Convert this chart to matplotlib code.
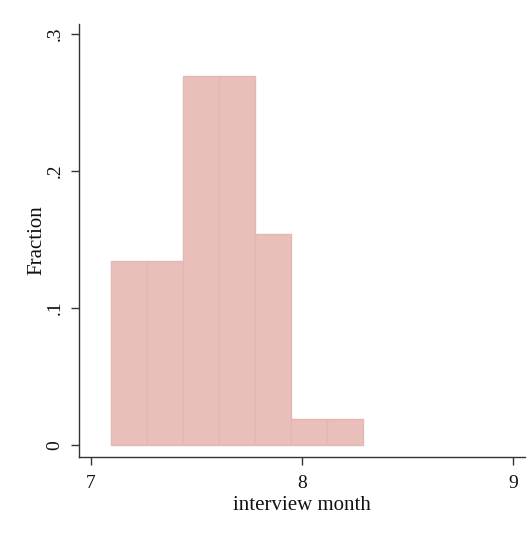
import matplotlib
matplotlib.use("Agg")
import matplotlib.pyplot as plt

bin_edges = [7.095, 7.2657, 7.4364, 7.6071, 7.7779, 7.9486, 8.1193, 8.29]
fractions = [7/52, 7/52, 14/52, 14/52, 8/52, 1/52, 1/52]
x_ticks = [7, 8, 9]
y_ticks = [0, 0.1, 0.2, 0.3]
y_tick_labels = ["0", ".1", ".2", ".3"]

plt.rcParams['font.family'] = ['Liberation Serif', 'DejaVu Serif']

fig = plt.figure(figsize=(5.32, 5.46), dpi=100)
ax = fig.add_axes([79/532, 89/546, 446/532, 433/546])

lefts = bin_edges[:-1]
widths = [b - a for a, b in zip(bin_edges[:-1], bin_edges[1:])]
ax.bar(lefts, fractions, width=widths, align='edge', color='#e8bfba',
       edgecolor='#e4b7b2', linewidth=1.0)

ax.set_xlim(6.943, 9.057)
ax.set_ylim(-0.0088, 0.3073)
ax.set_xticks(x_ticks)
ax.set_xticklabels([str(t) for t in x_ticks])
ax.set_yticks(y_ticks)
ax.set_yticklabels(y_tick_labels, rotation=90, va='center')

for s in ['top', 'right']:
    ax.spines[s].set_visible(False)
for s in ['left', 'bottom']:
    ax.spines[s].set_color('#333333')
    ax.spines[s].set_linewidth(1.0)
ax.tick_params(axis='both', length=6, width=1, color='#333333', labelsize=14,
               labelcolor='#111111')
ax.tick_params(axis='x', pad=7)
ax.tick_params(axis='y', pad=5)
ax.set_xlabel('interview month', fontsize=15, labelpad=3, color='#111111')
ax.set_ylabel('Fraction', fontsize=15, labelpad=0, color='#111111')

fig.savefig('out.png', dpi=100)
